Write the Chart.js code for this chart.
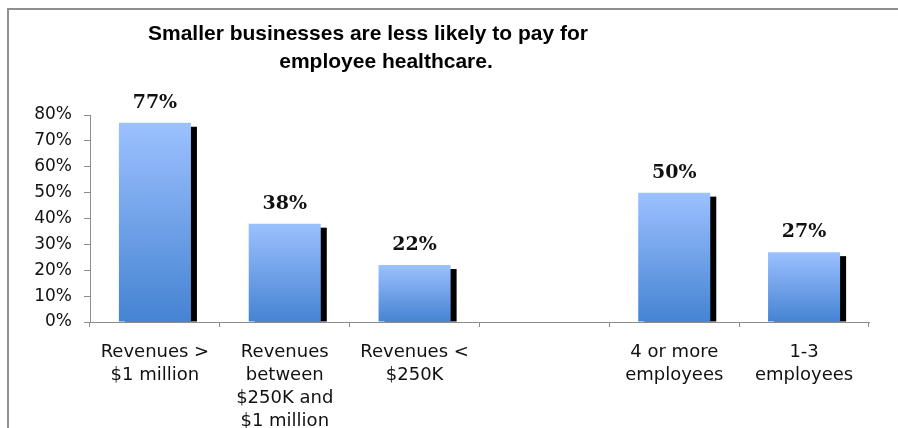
<!DOCTYPE html>
<html>
<head>
<meta charset="utf-8">
<script src="https://cdn.jsdelivr.net/npm/chart.js@4/dist/chart.umd.min.js"></script>
<style>
  html, body { margin: 0; padding: 0; background: #fff; }
  #wrap { width: 898px; height: 428px; }
</style>
</head>
<body>
<div id="wrap"><canvas id="chart" width="898" height="428"></canvas></div>
<script>
// categories along the x axis (multi-line labels), one slot left blank as a spacer
const categories = [
  ["Revenues >", "$1 million"],
  ["Revenues", "between", "$250K and", "$1 million"],
  ["Revenues <", "$250K"],
  "",
  ["4 or more", "employees"],
  ["1-3", "employees"],
];
// share of businesses paying for employee healthcare, in percent
const shares = [77, 38, 22, null, 50, 27];
// y axis range / step, in percent
const yMin = 0;
const yMax = 80;
const yStep = 10;

const titleLines = [
  "Smaller businesses are less likely to pay for",
  "employee healthcare.",
];

const axisGray = "#8c8c8c";

// vertical blue gradient, light on top, darker at the base of each bar
function barFill(ctx) {
  const chart = ctx.chart;
  if (!chart.chartArea || ctx.raw == null) return "#8fb4f0";
  const y = chart.scales.y;
  const top = y.getPixelForValue(ctx.raw);
  const base = y.getPixelForValue(0);
  const g = chart.ctx.createLinearGradient(0, top, 0, base);
  g.addColorStop(0, "#9cc1ff");
  g.addColorStop(1, "#4583d2");
  return g;
}

// white page + grey frame on the top and left edges
const framePlugin = {
  id: "frame",
  beforeDraw(chart) {
    const c = chart.ctx;
    c.save();
    c.fillStyle = "#fff";
    c.fillRect(0, 0, chart.width, chart.height);
    c.fillStyle = "#8f8f8f";
    c.fillRect(7, 8, 2, chart.height - 8);
    c.fillRect(7, 8, chart.width - 7, 2);
    c.restore();
  },
};

// black drop shadow peeking out on the right side of each bar
const shadowPlugin = {
  id: "barShadow",
  beforeDatasetsDraw(chart) {
    const c = chart.ctx;
    const meta = chart.getDatasetMeta(0);
    c.save();
    c.fillStyle = "#000";
    meta.data.forEach((bar, i) => {
      if (shares[i] == null) return;
      const { x, y, base, width } = bar.getProps(["x", "y", "base", "width"], true);
      c.fillRect(x - width / 2 + 6, y + 4, width, base - y - 4);
    });
    c.restore();
  },
};

// bold value labels above the bars
const valuePlugin = {
  id: "valueLabels",
  afterDatasetsDraw(chart) {
    const c = chart.ctx;
    const meta = chart.getDatasetMeta(0);
    c.save();
    c.font = "bold 19px 'DejaVu Serif'";
    c.fillStyle = "#111";
    c.textAlign = "center";
    c.textBaseline = "alphabetic";
    meta.data.forEach((bar, i) => {
      if (shares[i] == null) return;
      c.fillText(shares[i] + "%", bar.x, bar.y - 15);
    });
    c.restore();
  },
};

// two-line heading
const headingPlugin = {
  id: "heading",
  afterDraw(chart) {
    const c = chart.ctx;
    c.save();
    c.font = "bold 21px 'Liberation Sans', Arial, sans-serif";
    c.fillStyle = "#000";
    c.textAlign = "center";
    c.textBaseline = "alphabetic";
    c.fillText(titleLines[0], 368, 40);
    c.fillText(titleLines[1], 386, 68);
    c.restore();
  },
};

new Chart(document.getElementById("chart"), {
  type: "bar",
  data: {
    labels: categories,
    datasets: [{
      data: shares,
      backgroundColor: barFill,
      borderWidth: 0,
      categoryPercentage: 1,
      barPercentage: 0.555,
    }],
  },
  options: {
    responsive: false,
    animation: false,
    layout: { padding: { left: 0, right: 29, top: 115, bottom: 0 } },
    plugins: {
      legend: { display: false },
      title: { display: false },
      tooltip: { enabled: false },
    },
    scales: {
      x: {
        grid: {
          offset: true,
          drawOnChartArea: false,
          color: axisGray,
          tickLength: 5,
        },
        border: { color: axisGray, width: 1 },
        ticks: {
          color: "#111",
          padding: 14,
          maxRotation: 0,
          autoSkip: false,
          font: { family: "'DejaVu Sans'", size: 18, lineHeight: 1.28 },
        },
        afterFit(scale) { scale.height = 106; },
      },
      y: {
        min: yMin,
        max: yMax,
        grid: {
          drawOnChartArea: false,
          color: axisGray,
          tickLength: 6,
        },
        border: { color: axisGray, width: 1 },
        ticks: {
          stepSize: yStep,
          color: "#111",
          padding: 12,
          font: { family: "'DejaVu Sans'", size: 17 },
          callback: (v) => v + "%",
        },
        afterFit(scale) { scale.width = 90; },
      },
    },
  },
  plugins: [framePlugin, shadowPlugin, valuePlugin, headingPlugin],
});
</script>
</body>
</html>
